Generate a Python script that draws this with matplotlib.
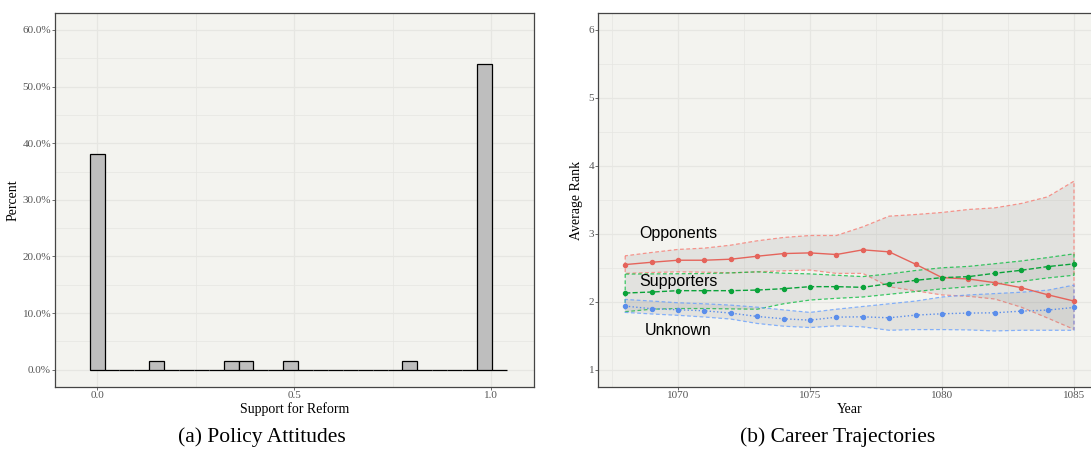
import numpy as np
import matplotlib
matplotlib.use("Agg")
import matplotlib.pyplot as plt
from matplotlib.ticker import FuncFormatter, MultipleLocator

# --- panel (a): histogram of support for reform (share of 63 people per bin)
bin_width = 0.0378
bin_counts = [24, 0, 0, 0, 1, 0, 0, 0, 0, 1, 1, 0, 0, 1, 0, 0, 0, 0, 0, 0,
              0, 1, 0, 0, 0, 0, 34, 0]
n_people = 63

# --- panel (b): career trajectories
years = list(range(1068, 1086))
opp_mean = [2.547, 2.581, 2.611, 2.611, 2.626, 2.670, 2.709, 2.719, 2.695,
            2.764, 2.734, 2.552, 2.355, 2.335, 2.281, 2.207, 2.103, 2.010]
opp_hi = [2.676, 2.725, 2.770, 2.789, 2.833, 2.897, 2.946, 2.975, 2.975,
          3.103, 3.260, 3.284, 3.314, 3.358, 3.382, 3.446, 3.544, 3.775]
opp_lo = [2.417, 2.430, 2.440, 2.435, 2.425, 2.440, 2.455, 2.466, 2.417,
          2.417, 2.220, 2.160, 2.100, 2.080, 2.040, 1.920, 1.760, 1.593]
sup_mean = [2.128, 2.143, 2.163, 2.163, 2.163, 2.172, 2.192, 2.222, 2.222,
            2.212, 2.266, 2.315, 2.355, 2.369, 2.419, 2.463, 2.517, 2.557]
sup_hi = [2.407, 2.410, 2.412, 2.415, 2.425, 2.440, 2.420, 2.410, 2.390,
          2.370, 2.410, 2.460, 2.500, 2.520, 2.560, 2.600, 2.650, 2.705]
sup_lo = [1.853, 1.890, 1.900, 1.900, 1.895, 1.890, 1.970, 2.025, 2.050,
          2.070, 2.110, 2.150, 2.190, 2.220, 2.260, 2.300, 2.350, 2.390]
unk_mean = [1.936, 1.897, 1.882, 1.867, 1.833, 1.783, 1.749, 1.729, 1.773,
            1.778, 1.764, 1.803, 1.823, 1.833, 1.837, 1.862, 1.877, 1.916]
unk_hi = [2.034, 2.010, 1.985, 1.970, 1.950, 1.920, 1.880, 1.843, 1.890,
          1.930, 1.970, 2.010, 2.070, 2.100, 2.120, 2.140, 2.170, 2.245]
unk_lo = [1.843, 1.820, 1.800, 1.775, 1.745, 1.680, 1.640, 1.620, 1.645,
          1.630, 1.580, 1.590, 1.590, 1.585, 1.570, 1.580, 1.580, 1.580]

groups = [
    ("Opponents", opp_mean, opp_lo, opp_hi, "#E5645B", "#F8766D", "-", (1070, 3.0)),
    ("Supporters", sup_mean, sup_lo, sup_hi, "#0AA33A", "#00BA38", "--", (1070, 2.30)),
    ("Unknown", unk_mean, unk_lo, unk_hi, "#5B8EEB", "#619CFF", ":", (1070, 1.58)),
]

bg = "#F3F3EF"
grid_c = "#E6E6E2"
tick_c = "#555555"
serif = ["Liberation Serif", "DejaVu Serif"]

plt.rcParams["font.family"] = serif

fig = plt.figure(figsize=(10.91, 4.54), dpi=100)


def style_axes(ax):
    ax.set_facecolor(bg)
    ax.grid(True, which="major", color=grid_c, linewidth=0.9, zorder=0)
    ax.grid(True, which="minor", color=grid_c, linewidth=0.5, zorder=0)
    ax.set_axisbelow(True)
    for s in ax.spines.values():
        s.set_color("#444444")
        s.set_linewidth(0.9)
    ax.tick_params(which="major", length=2, width=0.6, color=tick_c,
                   labelsize=8, labelcolor=tick_c, pad=0.8)
    ax.tick_params(which="minor", length=0)


# ---------------- (a) Policy Attitudes
ax1 = fig.add_axes([55 / 1091, 67 / 454, 479 / 1091, 374 / 454])
style_axes(ax1)
left_edges = np.arange(len(bin_counts)) * bin_width - bin_width / 2
pct = [100 * c / n_people for c in bin_counts]
ax1.bar(left_edges, pct, width=bin_width, align="edge", color="#BEBEBE",
        edgecolor="black", linewidth=0.9, zorder=3)
ax1.set_xlim(-0.107, 1.109)
ax1.set_ylim(-3.05, 63)
ax1.xaxis.set_major_locator(MultipleLocator(0.5))
ax1.xaxis.set_minor_locator(MultipleLocator(0.25))
ax1.yaxis.set_major_locator(MultipleLocator(10))
ax1.yaxis.set_minor_locator(MultipleLocator(5))
ax1.xaxis.set_major_formatter(FuncFormatter(lambda v, p: f"{v:.1f}"))
ax1.yaxis.set_major_formatter(FuncFormatter(lambda v, p: f"{v:.1f}%"))
ax1.set_xlabel("Support for Reform", fontsize=10, labelpad=2)
ax1.set_ylabel("Percent", fontsize=10, labelpad=2)

# ---------------- (b) Career Trajectories
ax2 = fig.add_axes([598 / 1091, 67 / 454, 502.4 / 1091, 374 / 454])
style_axes(ax2)
ax2.spines["right"].set_visible(False)
for name, mean, lo, hi, lc, ec, ls, (tx, ty) in groups:
    ax2.fill_between(years, lo, hi, facecolor=(0.5, 0.5, 0.5, 0.14),
                     edgecolor=matplotlib.colors.to_rgba(ec, 0.75),
                     linestyle=(0, (3, 2)), linewidth=0.9, zorder=2)
for name, mean, lo, hi, lc, ec, ls, (tx, ty) in groups:
    ax2.plot(years, mean, color=lc, linestyle=ls, linewidth=1.0,
             marker="o", markersize=2.9, zorder=4)
    ax2.text(tx, ty, name, ha="center", va="center", fontsize=11.5,
             family=["Liberation Sans", "DejaVu Sans"], zorder=5)
ax2.set_xlim(1066.97, 1086.0)
ax2.set_ylim(0.745, 6.25)
ax2.xaxis.set_major_locator(MultipleLocator(5))
ax2.xaxis.set_minor_locator(MultipleLocator(2.5))
ax2.yaxis.set_major_locator(MultipleLocator(1))
ax2.yaxis.set_minor_locator(MultipleLocator(0.5))
ax2.set_xlabel("Year", fontsize=10, labelpad=2)
ax2.set_ylabel("Average Rank", fontsize=10, labelpad=4)

# captions
fig.text(262 / 1091, 1 - 437 / 454, "(a) Policy Attitudes", ha="center",
         va="center", fontsize=15.5)
fig.text(838 / 1091, 1 - 437 / 454, "(b) Career Trajectories", ha="center",
         va="center", fontsize=15.5)

fig.savefig("out.png", dpi=100, facecolor="white")
